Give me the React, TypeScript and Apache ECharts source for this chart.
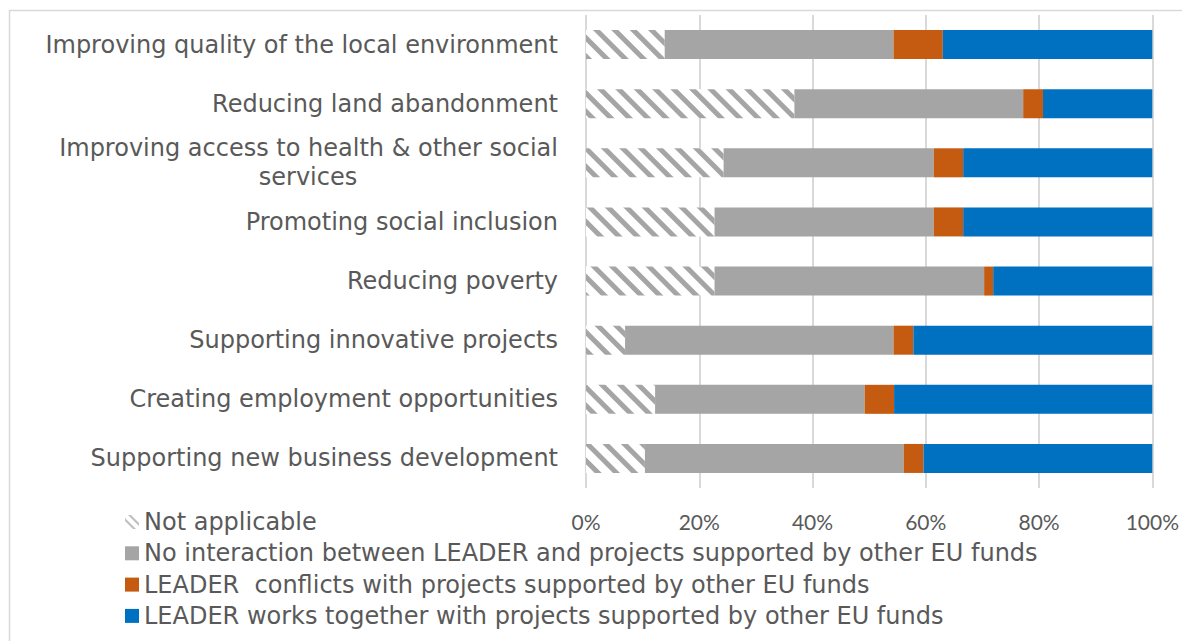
import React, { useEffect, useRef } from "react";
import * as echarts from "echarts";

const categories = [
  "Improving quality of the local environment",
  "Reducing land abandonment",
  "Improving access to health & other social\nservices",
  "Promoting social inclusion",
  "Reducing poverty",
  "Supporting innovative projects",
  "Creating employment opportunities",
  "Supporting new business development",
];

const seriesNames = [
  "Not applicable",
  "No interaction between LEADER and projects supported by other EU funds",
  "LEADER  conflicts with projects supported by other EU funds",
  "LEADER works together with projects supported by other EU funds",
];

const notApplicable = [13.9, 36.8, 24.3, 22.7, 22.7, 6.9, 12.2, 10.4];
const noInteraction = [40.4, 40.4, 37.1, 38.7, 47.6, 47.4, 37.0, 45.7];
const conflicts = [8.7, 3.5, 5.2, 5.2, 1.6, 3.5, 5.2, 3.5];
const worksTogether = [37.0, 19.3, 33.4, 33.4, 28.1, 42.2, 45.6, 40.4];

const xTicks = { min: 0, max: 100, interval: 20 };

const TEXT = "#595959";
const GRAY = "#a5a5a5";
const ORANGE = "#c55a11";
const BLUE = "#0070c0";
const FONT = "DejaVu Sans";

export default function App() {
  const ref = useRef<HTMLDivElement>(null);
  useEffect(() => {
    if (!ref.current) return;
    const chart = echarts.init(ref.current, undefined, { renderer: "svg" });
    const labelStyle = {
      fontFamily: FONT,
      fontSize: 24,
      color: TEXT,
      lineHeight: 29,
    };
    const option: any = {
      animation: false,
      backgroundColor: "#ffffff",
      graphic: [
        {
          type: "rect",
          shape: { x: 9.5, y: 10.5, width: 1300, height: 800 },
          style: { fill: "none", stroke: "#d9d9d9", lineWidth: 1.5 },
          silent: true,
        },
      ],
      grid: { left: 586, right: 29, top: 15, bottom: 153, containLabel: false },
      xAxis: {
        type: "value",
        min: xTicks.min,
        max: xTicks.max,
        interval: xTicks.interval,
        axisLine: { show: false },
        axisTick: { show: false },
        splitLine: { show: true, lineStyle: { color: "#d9d9d9", width: 2 } },
        axisLabel: {
          formatter: "{value}%",
          fontFamily: "Lato",
          fontSize: 21,
          color: TEXT,
          lineHeight: 24,
          margin: 21,
        },
      },
      yAxis: {
        type: "category",
        inverse: true,
        data: categories,
        axisLine: { show: false },
        axisTick: { show: false },
        splitLine: { show: false },
        axisLabel: {
          ...labelStyle,
          margin: 28,
          formatter: (v: string) => {
            if (v.indexOf("\n") >= 0) {
              const [a, b] = v.split("\n");
              return `{a|${a}}\n{b|${b}}`;
            }
            return v;
          },
          rich: {
            a: { ...labelStyle, width: 500, align: "right" },
            b: { ...labelStyle, width: 500, align: "center" },
          },
        },
      },
      legend: {
        orient: "vertical",
        left: 120,
        top: 505,
        itemWidth: 14,
        itemHeight: 14,
        itemGap: 7.3,
        textStyle: { fontFamily: FONT, fontSize: 24, color: TEXT, lineHeight: 24 },
        data: [
          {
            name: seriesNames[0],
            icon: "path://M3,0 L6,0 L14,8 L14,11 Z M0,3 L0,6 L8,14 L11,14 Z",
            itemStyle: { color: "#bfbfbf", decal: "none" },
          },
          { name: seriesNames[1], icon: "rect" },
          { name: seriesNames[2], icon: "rect" },
          { name: seriesNames[3], icon: "rect" },
        ],
      },
      series: [
        {
          name: seriesNames[0],
          type: "bar",
          stack: "total",
          barWidth: 29,
          data: notApplicable,
          itemStyle: {
            color: "#ffffff",
            decal: {
              symbol: "rect",
              symbolSize: 1,
              dashArrayX: [1, 0],
              dashArrayY: [4.5, 7.5],
              rotation: Math.PI / 4,
              color: GRAY,
            },
          },
        },
        {
          name: seriesNames[1],
          type: "bar",
          stack: "total",
          barWidth: 29,
          data: noInteraction,
          itemStyle: { color: GRAY },
        },
        {
          name: seriesNames[2],
          type: "bar",
          stack: "total",
          barWidth: 29,
          data: conflicts,
          itemStyle: { color: ORANGE },
        },
        {
          name: seriesNames[3],
          type: "bar",
          stack: "total",
          barWidth: 29,
          data: worksTogether,
          itemStyle: { color: BLUE },
        },
      ],
    };
    chart.setOption(option);
    return () => chart.dispose();
  }, []);
  return (
    <div
      ref={ref}
      style={{ position: "fixed", left: 0, top: 0, width: 1182, height: 641 }}
    />
  );
}
